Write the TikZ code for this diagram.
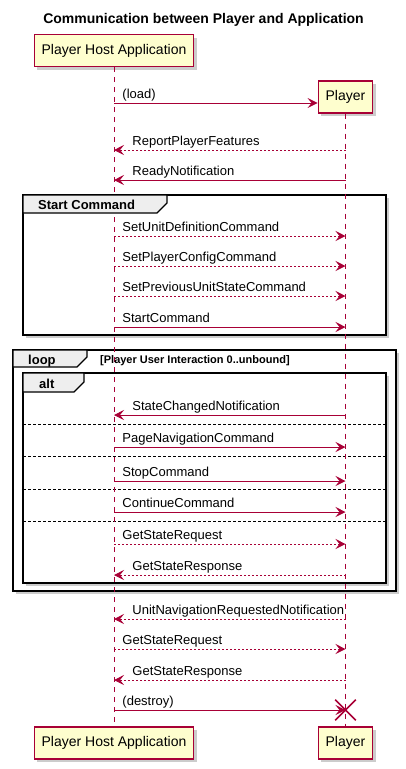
\documentclass[tikz,border=0pt]{standalone}
\usepackage{fontspec}
\setmainfont{Liberation Sans}
\usepackage{tikz}
\usetikzlibrary{arrows.meta,shadows,calc,shapes.misc}
\definecolor{umlred}{HTML}{A80036}
\definecolor{umlfill}{HTML}{FEFECE}
\definecolor{tabfill}{HTML}{EEEEEE}
\tikzset{
  actor/.style={draw=umlred, line width=1.2pt, fill=umlfill, inner xsep=7.5pt, minimum height=32pt,
    font=\fontsize{14}{16}\selectfont, drop shadow={shadow xshift=3pt, shadow yshift=-3pt, opacity=0.4}},
  lifeline/.style={umlred, line width=0.8pt, dash pattern=on 5pt off 5pt},
  msg/.style={umlred, line width=0.9pt, -{Stealth[length=10pt,width=10pt,inset=4pt]}},
  reply/.style={msg, dash pattern=on 2pt off 2pt},
  msglabel/.style={black, anchor=base west, inner sep=0pt, font=\fontsize{13}{15}\selectfont},
  rlab/.style={msglabel, pos=0, xshift=8pt, yshift=5pt},
  llab/.style={msglabel, pos=1, xshift=18pt, yshift=5pt},
  frame/.style={draw=black, line width=1.6pt, fill=white, drop shadow={shadow xshift=3pt, shadow yshift=-3pt, opacity=0.4}},
  tab/.style={draw=black, line width=1.2pt, fill=tabfill},
  tablabel/.style={anchor=base west, inner sep=0pt, font=\bfseries\fontsize{13}{15}\selectfont},
  sep/.style={black, line width=0.6pt, dash pattern=on 3pt off 2pt}
}
\begin{document}
\begin{tikzpicture}[x=1pt,y=-1pt]
\useasboundingbox (0,0) rectangle (405,769);
\node[font=\bfseries\fontsize{14}{16}\selectfont] (title) at (203.5,20) {Communication between Player and Application};

\draw[frame] (23,195) rectangle (386,335);
\draw[frame] (13,350) rectangle (396,591);
\draw[frame] (23,373) rectangle (386,583);
\foreach \y in {424,456,489,521}
  \draw[sep] (23,\y) -- (386,\y);

\node[actor] (hostTop) at (114,50.5) {Player Host Application};
\node[actor] (playerTop) at (345.5,97) {Player};
\node[actor] (hostBot) at (114,743) {Player Host Application};
\node[actor] (playerBot) at (345.5,743) {Player};
\draw[lifeline] (hostTop) -- (hostBot);
\draw[lifeline] (playerTop) -- (playerBot);

\draw[tab] (23,195) -- (167,195) -- (167,203) -- (157,213) -- (23,213) -- cycle;
\node[tablabel] at (38,209) {Start Command};
\draw[tab] (13,350) -- (87,350) -- (87,357) -- (77,367) -- (13,367) -- cycle;
\node[tablabel] at (28,364) {loop};
\node[tablabel, font=\bfseries\fontsize{11}{13}\selectfont] at (100,363) {[Player User Interaction 0..unbound]};
\draw[tab] (23,373) -- (84,373) -- (84,382) -- (74,392) -- (23,392) -- cycle;
\node[tablabel] at (39,388) {alt};

\foreach \n/\y in {1/103,2/150,3/180,4/236,5/266,6/296,7/327,8/415,9/447,10/481,11/512,12/544,13/575,14/619,15/649,16/680,17/710}
  \coordinate (r\n) at (0,\y);

\draw[msg] (r1 -| hostTop) -- (r1 -| playerTop.west) node[rlab] {(load)};
\draw[reply] (r2 -| playerTop) -- (r2 -| hostTop) node[llab] {ReportPlayerFeatures};
\draw[msg] (r3 -| playerTop) -- (r3 -| hostTop) node[llab] {ReadyNotification};
\draw[reply] (r4 -| hostTop) -- (r4 -| playerTop) node[rlab] {SetUnitDefinitionCommand};
\draw[reply] (r5 -| hostTop) -- (r5 -| playerTop) node[rlab] {SetPlayerConfigCommand};
\draw[reply] (r6 -| hostTop) -- (r6 -| playerTop) node[rlab] {SetPreviousUnitStateCommand};
\draw[msg] (r7 -| hostTop) -- (r7 -| playerTop) node[rlab] {StartCommand};
\draw[msg] (r8 -| playerTop) -- (r8 -| hostTop) node[llab] {StateChangedNotification};
\draw[msg] (r9 -| hostTop) -- (r9 -| playerTop) node[rlab] {PageNavigationCommand};
\draw[msg] (r10 -| hostTop) -- (r10 -| playerTop) node[rlab] {StopCommand};
\draw[msg] (r11 -| hostTop) -- (r11 -| playerTop) node[rlab] {ContinueCommand};
\draw[reply] (r12 -| hostTop) -- (r12 -| playerTop) node[rlab] {GetStateRequest};
\draw[reply] (r13 -| playerTop) -- (r13 -| hostTop) node[llab] {GetStateResponse};
\draw[reply] (r14 -| playerTop) -- (r14 -| hostTop) node[llab] {UnitNavigationRequestedNotification};
\draw[reply] (r15 -| hostTop) -- (r15 -| playerTop) node[rlab] {GetStateRequest};
\draw[reply] (r16 -| playerTop) -- (r16 -| hostTop) node[llab] {GetStateResponse};
\node[cross out, draw=umlred, line width=1.6pt, minimum size=19pt, inner sep=0pt] (kill) at (r17 -| playerTop) {};
\draw[msg] (r17 -| hostTop) -- (kill.center) node[rlab] {(destroy)};
\end{tikzpicture}
\end{document}
